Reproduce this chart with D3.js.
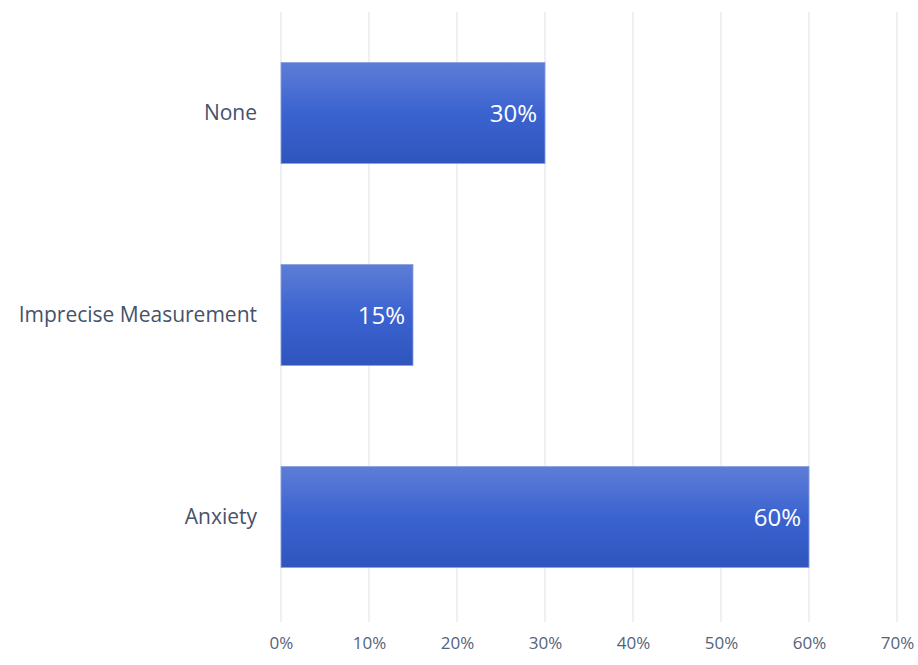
<!DOCTYPE html>
<html>
<head>
<meta charset="utf-8">
<script src="https://cdn.jsdelivr.net/npm/d3@7"></script>
<style>
  html, body { margin: 0; padding: 0; background: #fff; }
  svg { display: block; font-family: "Open Sans", Lato, sans-serif; }
</style>
</head>
<body>
<svg id="chart" width="918" height="665"></svg>
<script>
const categories = ["None", "Imprecise Measurement", "Anxiety"];
const values = [0.30, 0.15, 0.60];
const tickValues = [0, 0.1, 0.2, 0.3, 0.4, 0.5, 0.6, 0.7];

const svg = d3.select("#chart");

const x = d3.scaleLinear().domain([0, 0.7]).range([281, 897]);
const y = d3.scaleBand().domain(categories).range([12, 618])
  .paddingInner(0.5).paddingOuter(0.25);

const defs = svg.append("defs");
const grad = defs.append("linearGradient")
  .attr("id", "barFill").attr("x1", 0).attr("y1", 0).attr("x2", 0).attr("y2", 1);
grad.append("stop").attr("offset", "0%").attr("stop-color", "#5d7dd6");
grad.append("stop").attr("offset", "50%").attr("stop-color", "#3b63d0");
grad.append("stop").attr("offset", "100%").attr("stop-color", "#2f54bd");

// vertical gridlines
svg.append("g").selectAll("line").data(tickValues).join("line")
  .attr("x1", d => x(d)).attr("x2", d => x(d))
  .attr("y1", 12).attr("y2", 622)
  .attr("stroke", "#e6e8ee").attr("stroke-width", 1.3);

// x axis labels
const xAxis = d3.axisBottom(x).tickValues(tickValues)
  .tickFormat(d3.format(".0%")).tickSize(0).tickPadding(0);
const gx = svg.append("g").attr("transform", "translate(0,637)").call(xAxis);
gx.select(".domain").remove();
gx.selectAll("text").attr("font-size", 17).attr("fill", "#56627a")
  .attr("font-family", "'Open Sans', Lato, sans-serif");

// y axis labels
const yAxis = d3.axisLeft(y).tickSize(0).tickPadding(0);
const gy = svg.append("g").attr("transform", "translate(257,0)").call(yAxis);
gy.select(".domain").remove();
gy.selectAll("text").attr("font-size", 21).attr("fill", "#46526a")
  .attr("font-family", "'Open Sans', Lato, sans-serif");

// bars
svg.append("g").selectAll("rect").data(categories).join("rect")
  .attr("x", x(0))
  .attr("y", d => y(d))
  .attr("width", (d, i) => x(values[i]) - x(0))
  .attr("height", y.bandwidth())
  .attr("fill", "url(#barFill)")
  .attr("stroke", "#8aa0e0").attr("stroke-width", 0.8);

// value labels
svg.append("g").selectAll("text").data(categories).join("text")
  .attr("x", (d, i) => x(values[i]) - 8)
  .attr("y", d => y(d) + y.bandwidth() / 2)
  .attr("dy", "0.36em")
  .attr("text-anchor", "end")
  .attr("font-size", 24)
  .attr("fill", "#ffffff")
  .text((d, i) => d3.format(".0%")(values[i]));
</script>
</body>
</html>
